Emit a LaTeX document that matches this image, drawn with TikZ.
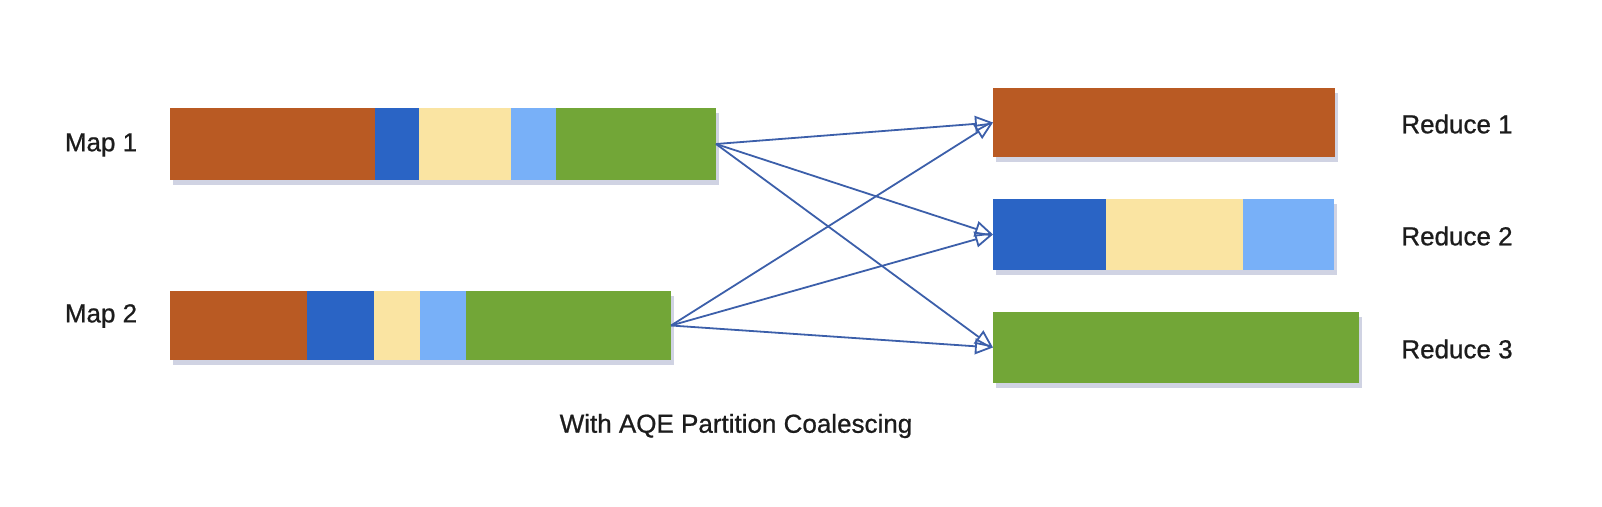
\documentclass[tikz,border=0pt]{standalone}
\usepackage{fontspec}
\setmainfont[FakeBold=0.8]{Liberation Sans}
\usetikzlibrary{arrows.meta,shadows}
\definecolor{cbrown}{RGB}{185,90,35}
\definecolor{cblue}{RGB}{42,100,197}
\definecolor{cyellow}{RGB}{250,228,162}
\definecolor{clblue}{RGB}{120,176,248}
\definecolor{cgreen}{RGB}{114,166,55}
\definecolor{carrow}{RGB}{60,95,170}
\definecolor{ctext}{RGB}{28,28,28}
\definecolor{cshadow}{RGB}{120,130,175}
\begin{document}
\begin{tikzpicture}[x=1pt,y=-1pt,
  barbox/.style={rectangle,inner sep=0pt,outer sep=0pt,draw=none,fill=white,
    drop shadow={shadow xshift=3pt,shadow yshift=-5pt,opacity=0.35,fill=cshadow}},
  seg/.style={rectangle,inner sep=0pt,outer sep=0pt,draw=none,anchor=west},
  lbl/.style={text=ctext,font=\fontsize{26}{30}\selectfont,inner sep=0pt},
  conn/.style={draw=carrow,line width=1.8pt,-{Triangle[open,length=18pt,width=16pt,line width=1.8pt]}}]
\useasboundingbox (0,0) rectangle (1602,506);
% Map 1
\node[barbox,minimum width=546pt,minimum height=72pt] (map1) at (443,144) {};
\node[seg,fill=cbrown,minimum width=205pt,minimum height=72pt] (m1a) at (170,144) {};
\node[seg,fill=cblue,minimum width=44pt,minimum height=72pt] (m1b) at (375,144) {};
\node[seg,fill=cyellow,minimum width=92pt,minimum height=72pt] (m1c) at (419,144) {};
\node[seg,fill=clblue,minimum width=45pt,minimum height=72pt] (m1d) at (511,144) {};
\node[seg,fill=cgreen,minimum width=160pt,minimum height=72pt] (m1e) at (556,144) {};
% Map 2
\node[barbox,minimum width=501pt,minimum height=69pt] (map2) at (420.5,325.5) {};
\node[seg,fill=cbrown,minimum width=137pt,minimum height=69pt] (m2a) at (170,325.5) {};
\node[seg,fill=cblue,minimum width=67pt,minimum height=69pt] (m2b) at (307,325.5) {};
\node[seg,fill=cyellow,minimum width=46pt,minimum height=69pt] (m2c) at (374,325.5) {};
\node[seg,fill=clblue,minimum width=46pt,minimum height=69pt] (m2d) at (420,325.5) {};
\node[seg,fill=cgreen,minimum width=205pt,minimum height=69pt] (m2e) at (466,325.5) {};
% Reduce 1
\node[barbox,fill=cbrown,minimum width=342pt,minimum height=69pt] (r1) at (1164,122.5) {};
% Reduce 2
\node[barbox,minimum width=341pt,minimum height=71pt] (r2) at (1163.5,234.5) {};
\node[seg,fill=cblue,minimum width=113pt,minimum height=71pt] (r2a) at (993,234.5) {};
\node[seg,fill=cyellow,minimum width=137pt,minimum height=71pt] (r2b) at (1106,234.5) {};
\node[seg,fill=clblue,minimum width=91pt,minimum height=71pt] (r2c) at (1243,234.5) {};
% Reduce 3
\node[barbox,fill=cgreen,minimum width=366pt,minimum height=71pt] (r3) at (1176,347.5) {};
% Labels
\node[lbl] (l1) at (101,145) {Map 1};
\node[lbl] (l2) at (101,316) {Map 2};
\node[lbl] (l3) at (1457,124) {Reduce 1};
\node[lbl] (l4) at (1457,236) {Reduce 2};
\node[lbl] (l5) at (1457,349) {Reduce 3};
\node[lbl] (cap) at (736,426) {With AQE Partition Coalescing};
% Connectors
\draw[conn] (map1.east) -- (r1.west);
\draw[conn] (map1.east) -- (r2.west);
\draw[conn] (map1.east) -- (r3.west);
\draw[conn] (map2.east) -- (r1.west);
\draw[conn] (map2.east) -- (r2.west);
\draw[conn] (map2.east) -- (r3.west);
\end{tikzpicture}
\end{document}
